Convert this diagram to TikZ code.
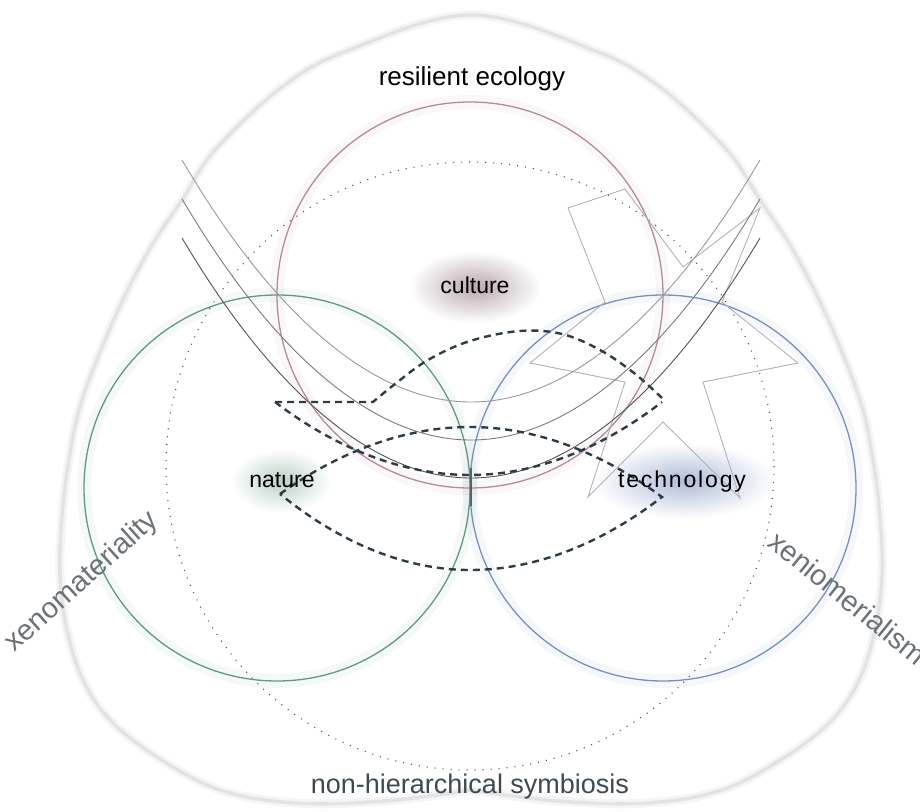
\documentclass[tikz,border=0pt]{standalone}
\usepackage{fontspec}
\setmainfont{Liberation Sans}
\definecolor{culturecol}{HTML}{B58A99}
\definecolor{naturecol}{HTML}{5F9A80}
\definecolor{techcol}{HTML}{7890BD}
\definecolor{dashcol}{HTML}{2E3C46}
\definecolor{labelcol}{HTML}{6C7378}
\definecolor{basecol}{HTML}{3E4A52}
\begin{document}
\begin{tikzpicture}[x=1pt,y=-1pt,
    ring/.style={line width=1.3pt},
    glow/.style={line width=14pt,opacity=0.07},
    dashpath/.style={dashcol,line width=2.4pt,dash pattern=on 7pt off 5pt},
    dotring/.style={black!70,line width=1.1pt,dash pattern=on 1pt off 7pt},
    hull/.style={black!11,line width=3.5pt,line join=round},
    word/.style={inner sep=0pt,font=\fontsize{23}{27}\selectfont},
    sideword/.style={inner sep=0pt,labelcol,font=\fontsize{29}{33}\selectfont}]
  \newcommand{\rad}{193}
  \newcommand{\hullpts}{(471,790) (385,801) (295,803) (220,790) (157,757) (110,720) (83,680) (67,630) (60,575) (62,517) (69,460) (82,400) (115,317) (149,250) (182,200) (215,150) (282,87) (349,50) (471,15) (593,50) (660,87) (727,150) (760,200) (793,250) (827,317) (860,400) (873,460) (880,517) (882,575) (875,630) (859,680) (832,720) (785,757) (722,790) (647,803) (557,801) (471,790)}
  \useasboundingbox (0,0) rectangle (920,811);
  \shade[inner color=culturecol!70!black!55, outer color=white] (475,287) ellipse (66 and 36);
  \shade[inner color=naturecol!45, outer color=white] (281,481) ellipse (50 and 32);
  \shade[inner color=techcol!60, outer color=white] (684,481) ellipse (92 and 38);
  \draw[black!4,line width=9pt,line join=round] plot[smooth,tension=0.6] coordinates {\hullpts};
  \draw[hull] plot[smooth,tension=0.6] coordinates {\hullpts};
  \draw[glow,culturecol] (470,295) circle (\rad);
  \draw[glow,naturecol] (277,488) circle (\rad);
  \draw[glow,techcol] (663,488) circle (\rad);
  \draw[dotring] (470,466) circle (304);
  \draw[ring,culturecol] (470,295) circle (\rad);
  \draw[ring,naturecol] (277,488) circle (\rad);
  \draw[ring,techcol] (663,488) circle (\rad);
  \draw[black!30,line width=0.9pt] (568,208) -- (625,189) -- (683,267) -- (760,208) -- (722,302) -- (798,363) -- (703,382) -- (740,498) -- (663,422) -- (588,497) -- (625,382) -- (530,363) -- (605,302) -- cycle;
  \draw[black!40,line width=0.9pt] (182,160) parabola bend (471,402) (760,160);
  \draw[black!52,line width=0.9pt] (182,199) parabola bend (471,440) (760,199);
  \draw[black!68,line width=0.9pt] (182,238) parabola bend (471,478) (760,238);
  \draw[dashcol!80,line width=1.3pt] (471,468) -- (471,506);
  \draw[dashpath] (275,402) -- (373,402) -- plot[smooth,tension=0.6] coordinates {(373,402) (395,384) (428,360) (470,341) (520,331) (562,334) (600,350) (634,373) (662,398)};
  \draw[dashpath] (275,402) parabola bend (470,475) (662,402);
  \draw[dashpath] (280,494) parabola bend (470,427) (662,497) parabola bend (470,570) (280,494);
  \node[word,anchor=base] (resilient) at (472,85) {\fontsize{26}{30}\selectfont resilient ecology};
  \node[word,anchor=base] (culture) at (475,293) {culture};
  \node[word,anchor=base] (nature) at (282,487) {nature};
  \node[word,anchor=base] (technology) at (682,487) {\addfontfeature{LetterSpace=8}technology};
  \node[word,anchor=base,basecol] (symbiosis) at (470,793) {\fontsize{27}{31}\selectfont non-hierarchical symbiosis};
  \node[sideword,rotate=42] (xenomateriality) at (82,582) {xenomateriality};
  \node[sideword,rotate=-39] (xeniomerialism) at (848,598) {xeniomerialism};
\end{tikzpicture}
\end{document}
